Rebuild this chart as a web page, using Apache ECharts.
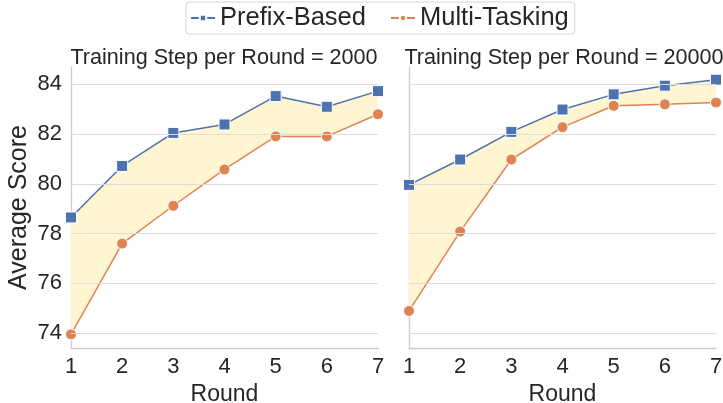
<!DOCTYPE html>
<html>
<head>
<meta charset="utf-8">
<script src="https://cdn.jsdelivr.net/npm/echarts@6/dist/echarts.min.js"></script>
<style>
  html, body { margin: 0; padding: 0; background: #fff; }
  #chart { width: 723px; height: 403px; }
</style>
</head>
<body>
<div id="chart"></div>
<script>
// 数据
var rounds = ['1', '2', '3', '4', '5', '6', '7'];
var yTicks = [74, 76, 78, 80, 82, 84];
var prefix2000 = [78.65, 80.72, 82.05, 82.39, 83.53, 83.10, 83.73];
var multi2000 = [73.95, 77.60, 79.12, 80.58, 81.91, 81.91, 82.80];
var prefix20000 = [79.96, 80.98, 82.09, 82.99, 83.60, 83.95, 84.19];
var multi20000 = [74.89, 78.08, 80.98, 82.28, 83.14, 83.20, 83.27];

var BLUE = '#4c72b0';
var ORANGE = '#dd8452';
var FILL = '#fff5d1';
var FONT = '"Liberation Sans", Arial, sans-serif';

function diff(a, b) {
  return a.map(function (v, i) { return +(v - b[i]).toFixed(3); });
}

function panelSeries(idx, prefix, multi) {
  return [
    {
      // 网格线放在填充下面
      type: 'line', xAxisIndex: idx, yAxisIndex: idx, data: [],
      silent: true, z: 1,
      markLine: {
        silent: true, symbol: 'none', label: { show: false },
        lineStyle: { color: '#dcdcdc', type: 'solid', width: 1.2 },
        data: yTicks.map(function (t) { return { yAxis: t }; })
      }
    },
    {
      type: 'line', xAxisIndex: idx, yAxisIndex: idx, stack: 'band' + idx,
      data: multi, symbol: 'none', silent: true, z: 2,
      lineStyle: { opacity: 0 }
    },
    {
      type: 'line', xAxisIndex: idx, yAxisIndex: idx, stack: 'band' + idx,
      data: diff(prefix, multi), symbol: 'none', silent: true, z: 2,
      lineStyle: { opacity: 0 },
      areaStyle: { color: FILL, opacity: 1 }
    },
    {
      name: 'Prefix-Based', type: 'line', xAxisIndex: idx, yAxisIndex: idx,
      data: prefix, symbol: 'rect', symbolSize: 11, z: 4,
      lineStyle: { color: BLUE, width: 1.5 },
      itemStyle: { color: BLUE, borderColor: '#fff', borderWidth: 1 }
    },
    {
      name: 'Multi-Tasking', type: 'line', xAxisIndex: idx, yAxisIndex: idx,
      data: multi, symbol: 'circle', symbolSize: 11, z: 4,
      lineStyle: { color: ORANGE, width: 1.5 },
      itemStyle: { color: ORANGE, borderColor: '#fff', borderWidth: 1 }
    }
  ];
}

function xAxis(idx) {
  return {
    type: 'category', gridIndex: idx, data: rounds, boundaryGap: false,
    name: 'Round', nameLocation: 'middle', nameGap: 30,
    nameTextStyle: { fontSize: 23, color: '#262626', fontFamily: FONT },
    axisLine: { show: true, lineStyle: { color: '#cccccc', width: 1.3 } },
    axisTick: { show: false },
    axisLabel: { fontSize: 22, color: '#262626', margin: 8, fontFamily: FONT },
    splitLine: { show: false }
  };
}

function yAxis(idx, showLabels) {
  return {
    type: 'value', gridIndex: idx, min: 73.4, max: 84.7,
    name: showLabels ? 'Average Score' : '', nameLocation: 'middle', nameGap: 39,
    nameTextStyle: { fontSize: 25, color: '#262626', fontFamily: FONT },
    axisLine: { show: true, lineStyle: { color: '#cccccc', width: 1.3 } },
    axisTick: { show: false },
    axisLabel: {
      show: showLabels, fontSize: 22, color: '#262626', margin: 9, fontFamily: FONT,
      showMinLabel: false, showMaxLabel: false,
      formatter: function (v) { return yTicks.indexOf(v) >= 0 ? String(v) : ''; }
    },
    splitLine: { show: false }
  };
}

var chart = echarts.init(document.getElementById('chart'), null, { renderer: 'canvas' });
chart.setOption({
  backgroundColor: '#ffffff',
  animation: false,
  textStyle: { fontFamily: FONT },
  title: [
    {
      text: 'Training Step per Round = 2000', left: 219, top: 42, textAlign: 'center',
      textStyle: { fontSize: 21.6, fontWeight: 'normal', color: '#262626', fontFamily: FONT }
    },
    {
      text: 'Training Step per Round = 20000', left: 559, top: 42, textAlign: 'center',
      textStyle: { fontSize: 21.6, fontWeight: 'normal', color: '#262626', fontFamily: FONT }
    }
  ],
  legend: {
    data: ['Prefix-Based', 'Multi-Tasking'],
    left: 186, top: 2,
    padding: [3, 6, 3, 4],
    itemGap: 24, itemWidth: 24, itemHeight: 8,
    borderColor: '#d6d6d6', borderWidth: 1, borderRadius: 3,
    textStyle: { fontSize: 25.5, color: '#262626', fontFamily: FONT }
  },
  grid: [
    { left: 71, right: 345, top: 67, bottom: 55, outerBoundsMode: 'none' },
    { left: 409, right: 7, top: 67, bottom: 55, outerBoundsMode: 'none' }
  ],
  xAxis: [xAxis(0), xAxis(1)],
  yAxis: [yAxis(0, true), yAxis(1, false)],
  series: panelSeries(0, prefix2000, multi2000).concat(panelSeries(1, prefix20000, multi20000))
});
</script>
</body>
</html>
